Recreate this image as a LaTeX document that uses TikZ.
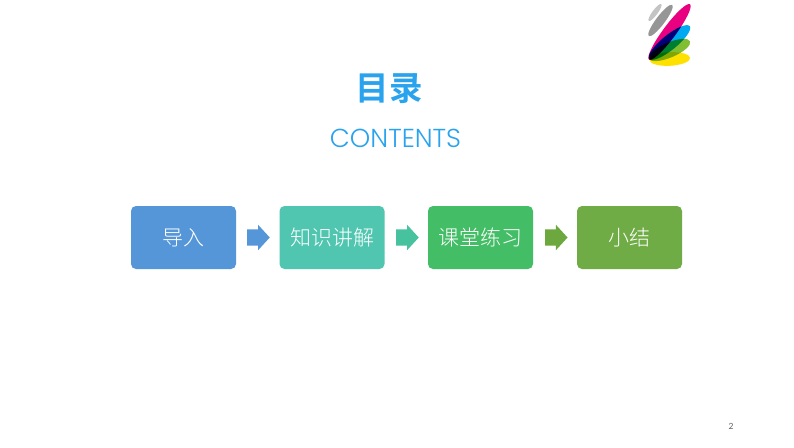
\documentclass[tikz,border=0pt]{standalone}
\usepackage{fontspec}
\setmainfont{Lato}
\newfontfamily\cjk{Noto Sans CJK SC Light}
\newfontfamily\cjkb{Noto Sans CJK SC Bold}
\newfontfamily\latin{Poppins Light}
\usetikzlibrary{shapes.arrows}
\definecolor{titleblue}{HTML}{2AA3EE}
\definecolor{boxa}{HTML}{5596D8}
\definecolor{boxb}{HTML}{50C6B0}
\definecolor{boxc}{HTML}{43BD66}
\definecolor{boxd}{HTML}{70AC46}
\definecolor{arrowb}{HTML}{46C29E}
\definecolor{arrowc}{HTML}{6CA83E}
\definecolor{petalgrayl}{HTML}{C4C4C4}
\definecolor{petalgray}{HTML}{969696}
\definecolor{petalm}{HTML}{E80080}
\definecolor{petalb}{HTML}{00AAF0}
\definecolor{petalg}{HTML}{82BE32}
\definecolor{petaly}{HTML}{FFE100}
\tikzset{
  topic/.style={fill=#1,rounded corners=5pt,minimum width=105pt,minimum height=63pt,inner sep=0pt,text=white,font=\cjk\fontsize{21}{21}\selectfont},
  blockarrow/.style={single arrow,fill=#1,minimum height=22.5pt,inner xsep=0pt,inner ysep=7.85pt,single arrow head extend=4.65pt,single arrow tip angle=95},
  petal/.style={fill=#1,draw=none}
}
\begin{document}
\begin{tikzpicture}[x=1pt,y=-1pt]
\useasboundingbox (0,0) rectangle (794,447);
\fill[white] (0,0) rectangle (794,447);
% logo
\begin{scope}[blend group=multiply]
\fill[petal=petalgrayl] (655,12.5) ellipse [x radius=10.5,y radius=2.6,rotate=53.5];
\fill[petal=petalgray] (660.5,20.5) ellipse [x radius=19.5,y radius=4.4,rotate=53];
\fill[petal=petalm] (669.5,32) ellipse [x radius=34.5,y radius=6.5,rotate=53.5];
\fill[petal=petalb] (669.5,42.5) ellipse [x radius=26,y radius=7.5,rotate=39];
\fill[petal=petalg] (669.5,50) ellipse [x radius=22.3,y radius=7.5,rotate=23];
\fill[petal=petaly] (669.8,59) ellipse [x radius=20.3,y radius=6.8,rotate=3];
\end{scope}
% titles
\node[text=titleblue,font=\cjkb\fontsize{33.5}{33.5}\selectfont,inner sep=0pt] (title) at (389,89) {目录};
\node[text=titleblue,font=\latin\fontsize{26}{26}\selectfont,inner sep=0pt] (sub) at (395.5,138.5) {CONTENTS};
% boxes
\node[topic=boxa] (a) at (183.5,237.5) {导入};
\node[topic=boxb] (b) at (332,237.5) {知识讲解};
\node[topic=boxc] (c) at (480.5,237.5) {课堂练习};
\node[topic=boxd] (d) at (629.5,237.5) {小结};
% arrows
\node[blockarrow=boxa] (ab) at (254.8,237.5) {};
\node[blockarrow=arrowb] (bc) at (403.8,237.5) {};
\node[blockarrow=arrowc] (cd) at (552.6,237.5) {};
% page number
\node[text=gray!75!black,font=\fontsize{8.5}{8.5}\selectfont,inner sep=0pt] (pg) at (731,426.5) {2};
\end{tikzpicture}
\end{document}
